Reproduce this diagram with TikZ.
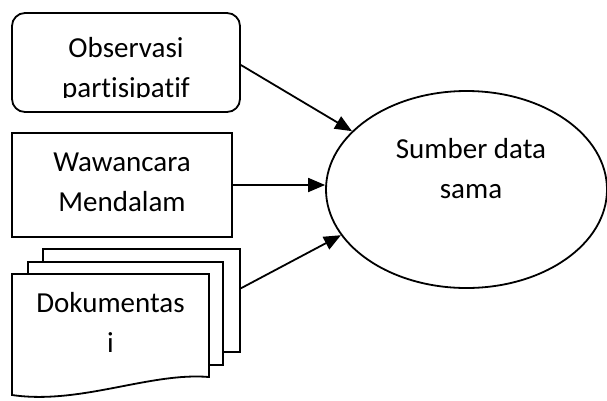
\documentclass[tikz,border=0pt]{standalone}
\usepackage{fontspec}
\setmainfont[Ligatures=NoCommon]{Carlito}
\usetikzlibrary{arrows.meta, shapes.geometric}
\tikzset{
  box/.style={draw, line width=1.8pt, inner sep=0pt},
  roundbox/.style={box, rounded corners=13pt},
  page/.style={box, fill=white},
  oval/.style={draw, ellipse, line width=1.8pt, inner sep=0pt},
  txt/.style={align=center, inner sep=0pt, font=\fontsize{29}{40}\selectfont},
  arrow/.style={line width=1.8pt, -{Triangle[length=17pt, width=14pt]}}
}
\begin{document}
\begin{tikzpicture}[x=1pt, y=-1pt]
  \useasboundingbox (0,0) rectangle (607,400);
  % kotak kiri
  \node[roundbox, minimum width=228pt, minimum height=99pt] (obs) at (126,62.5) {};
  \begin{scope}
    \clip (12,13) rectangle (240,97);
    \node[txt, anchor=base] (obstext) at (126,97) {Observasi\\partisipatif};
  \end{scope}
  \node[box, minimum width=220pt, minimum height=104pt] (wwc) at (122,185) {};
  \node[txt, anchor=base] (wwctext) at (122,211) {Wawancara\\Mendalam};
  % dokumen bertumpuk
  \node[page, minimum width=197pt, minimum height=103pt] (back) at (141.5,300.5) {};
  \node[page, minimum width=195pt, minimum height=103pt] (mid) at (125.5,313.5) {};
  \draw[page] (12,274) -- (209,274) -- (209,377)
    .. controls (150,372) and (80,405) .. (12,395) -- cycle;
  \node[txt, anchor=base] (doktext) at (110.5,352) {Dokumentas\\i};
  % elips
  \node[oval, minimum width=281pt, minimum height=197pt] (sumber) at (466.5,189.5) {};
  \node[txt, anchor=base] (sumbertext) at (471,198) {Sumber data\\sama};
  % panah
  \draw[arrow] (obs.east |- 0,65) -- (sumber.153);
  \draw[arrow] (wwc.east) -- (sumber.west |- wwc.east);
  \draw[arrow] (back.7) -- (sumber.200);
\end{tikzpicture}
\end{document}
